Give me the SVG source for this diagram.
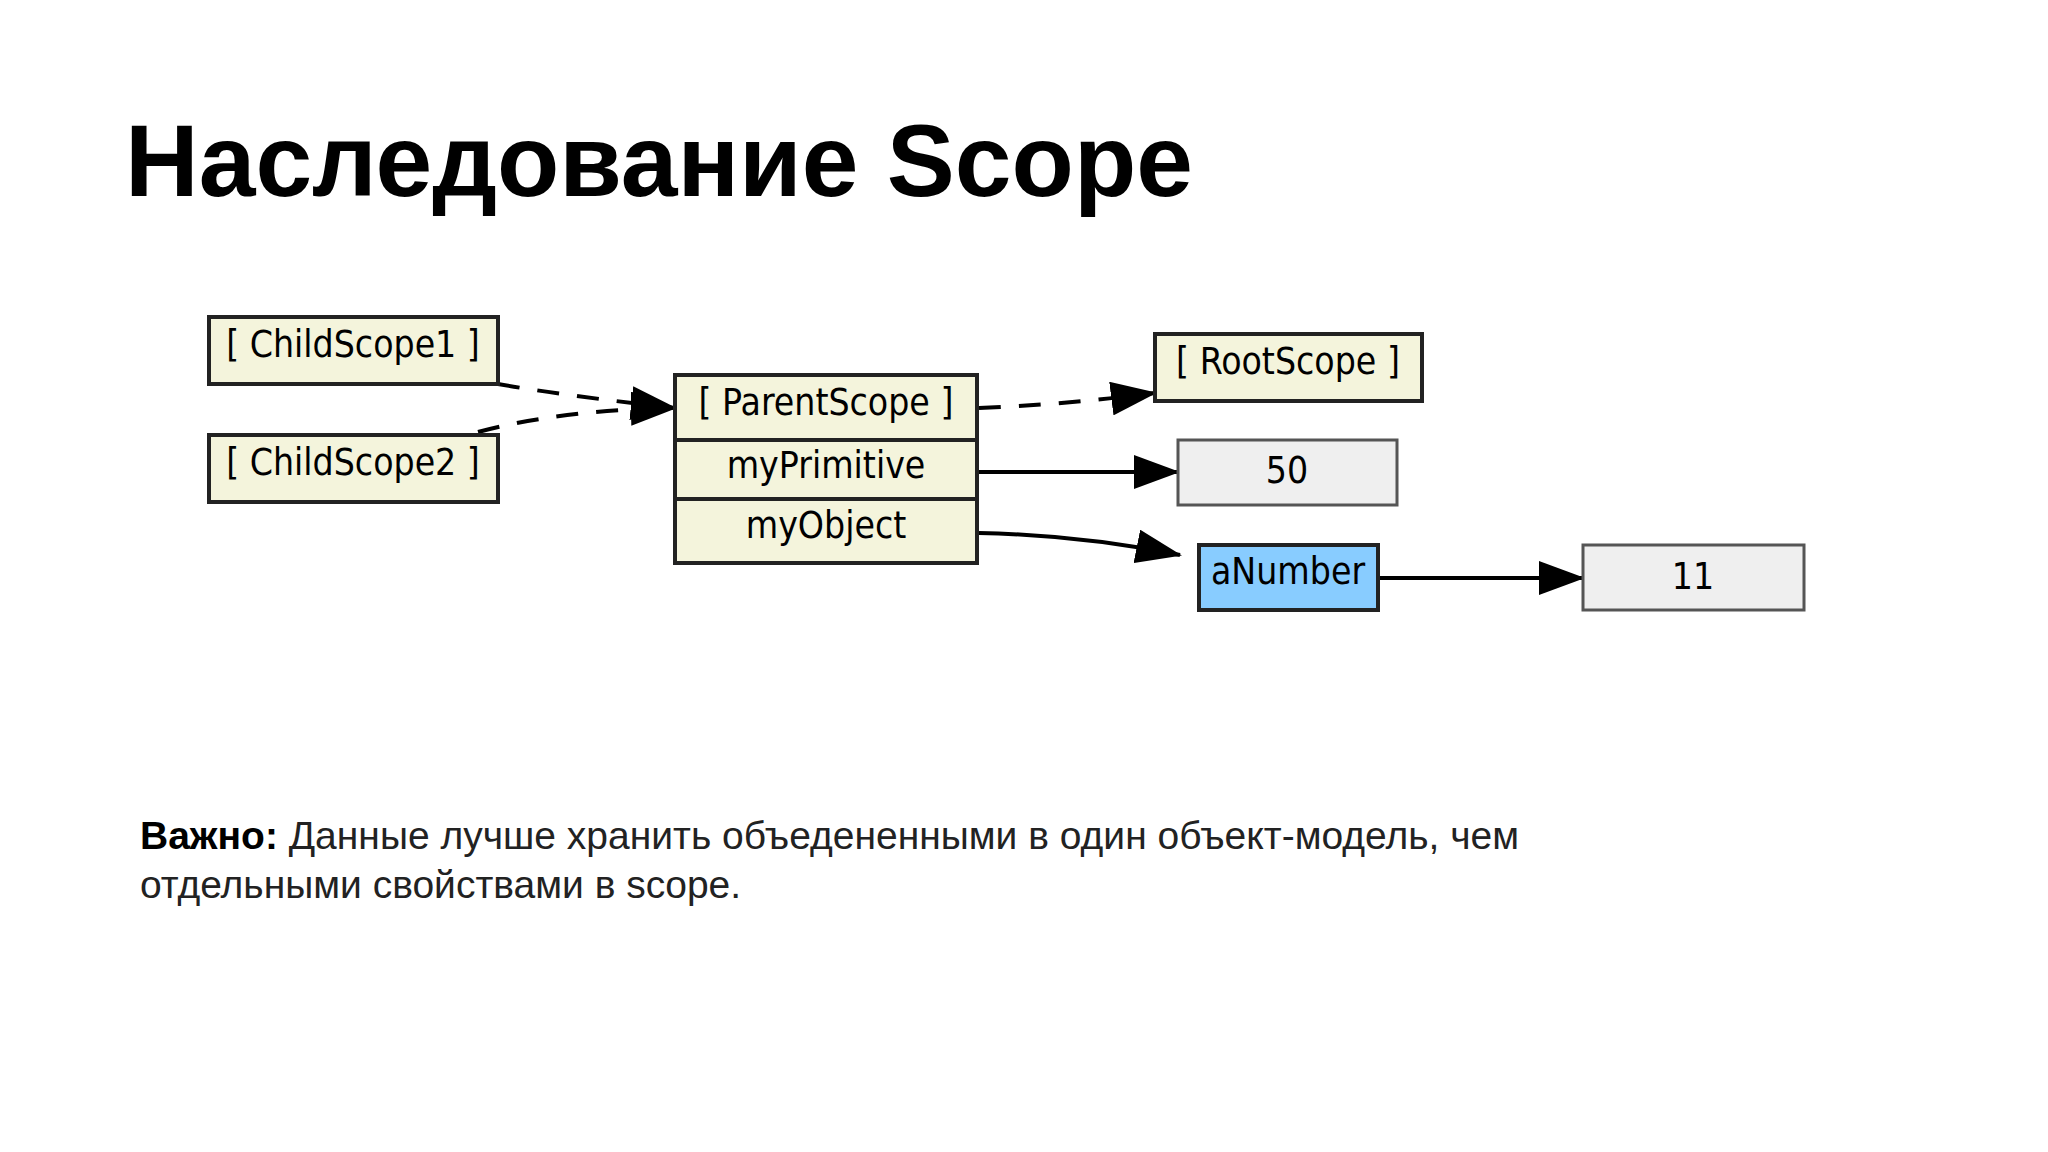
<svg xmlns="http://www.w3.org/2000/svg" width="2048" height="1152" viewBox="0 0 2048 1152">
<defs>
<style>
.scope{fill:#f4f4dc;stroke:#222;stroke-width:4}
.val{fill:#efefef;stroke:#555;stroke-width:3}
.t{font-family:"DejaVu Sans Condensed","DejaVu Sans",sans-serif;font-size:37px;fill:#000;text-anchor:middle}
.c{fill:none;stroke:#000;stroke-width:4}
.d{stroke-dasharray:22,18}
</style>
<marker id="big" markerWidth="46" markerHeight="34" refX="44" refY="17" orient="auto" markerUnits="userSpaceOnUse" viewBox="0 0 46 34"><path d="M0,0 L46,17 L0,34 z" fill="#000"/></marker>
</defs>
<rect width="2048" height="1152" fill="#fff"/>
<text x="125" y="196" font-family="Liberation Sans, Arial, sans-serif" font-weight="bold" font-size="102">Наследование Scope</text>
<g id="connectors">
<path class="c d" d="M498,384 Q560,395 675,408" marker-end="url(#big)"/>
<path class="c d" d="M478,432 Q560,410 675,408" marker-end="url(#big)"/>
<path class="c d" d="M979,408 Q1060,405 1155,393" marker-end="url(#big)"/>
<path class="c" d="M979,472 L1178,472" marker-end="url(#big)"/>
<path class="c" d="M979,533 Q1080,535 1180,555" marker-end="url(#big)"/>
<path class="c" d="M1378,578 L1583,578" stroke-width="3" marker-end="url(#big)"/>
</g>
<g id="childscope1"><rect class="scope" x="209" y="317" width="289" height="67"/><text class="t" x="353" y="357">[ ChildScope1 ]</text></g>
<g id="childscope2"><rect class="scope" x="209" y="435" width="289" height="67"/><text class="t" x="353" y="475">[ ChildScope2 ]</text></g>
<g id="parentscope">
<rect class="scope" x="675" y="375" width="302" height="65"/><text class="t" x="826" y="415">[ ParentScope ]</text>
<rect class="scope" x="675" y="440" width="302" height="59"/><text class="t" x="826" y="478">myPrimitive</text>
<rect class="scope" x="675" y="499" width="302" height="64"/><text class="t" x="826" y="538">myObject</text>
</g>
<g id="rootscope"><rect class="scope" x="1155" y="334" width="267" height="67"/><text class="t" x="1288" y="374">[ RootScope ]</text></g>
<g id="v50"><rect class="val" x="1178" y="440" width="219" height="65"/><text class="t" x="1287" y="483">50</text></g>
<g id="anumber"><rect x="1199" y="545" width="179" height="65" fill="#88ccff" stroke="#222" stroke-width="4"/><text class="t" x="1288" y="584">aNumber</text></g>
<g id="v11"><rect class="val" x="1583" y="545" width="221" height="65" stroke="#999" stroke-width="4"/><text class="t" x="1693" y="589">11</text></g>
<text x="140" y="849" font-family="Liberation Sans, Arial, sans-serif" font-size="39" fill="#222"><tspan font-weight="bold" fill="#000">Важно:</tspan> Данные лучше хранить объедененными в один объект-модель, чем</text>
<text x="140" y="898" font-family="Liberation Sans, Arial, sans-serif" font-size="39" fill="#222">отдельными свойствами в scope.</text>
</svg>
